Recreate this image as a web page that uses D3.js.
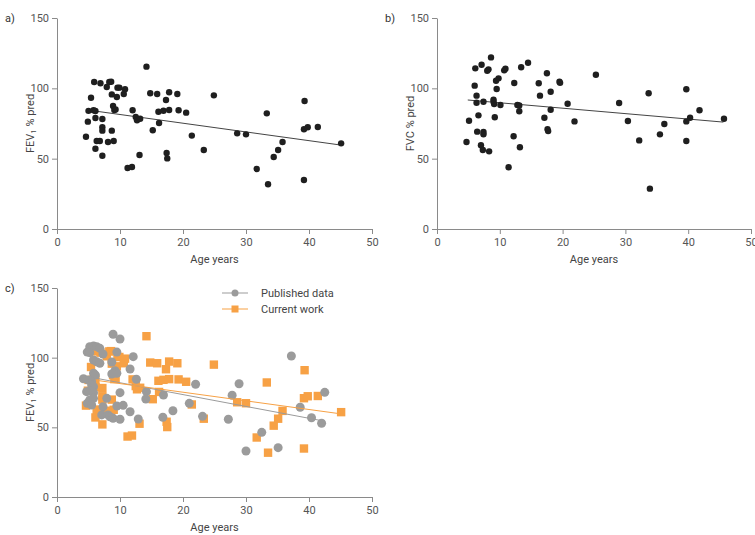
<!DOCTYPE html>
<html>
<head>
<meta charset="utf-8">
<script src="https://cdn.jsdelivr.net/npm/d3@7"></script>
<style>
  body { margin: 0; background: #fff; }
  text { font-family: Roboto, "Open Sans", sans-serif; }
  .axis path, .axis line { stroke: #8a8a8a; }
  .axis text { fill: #555; font-size: 11px; }
</style>
</head>
<body>
<script>
'use strict';

// current work: FEV1 % pred vs age (panel a, and orange squares in c)
const fev1Age = [14.2, 5.9, 6.9, 7.9, 8.3, 8.6, 9.6, 9.9, 10.8, 8.7, 9.5, 10.6, 5.4,
  14.8, 15.9, 17.8, 19.1, 24.9, 17.3, 5.0, 5.8, 6.1, 8.9, 9.1, 9.3,
  12.0, 16.1, 16.9, 17.8, 19.3, 20.5, 4.9, 6.1, 7.2, 7.2, 7.2, 8.7,
  12.5, 12.7, 13.2, 16.2, 15.2, 4.6, 6.3, 6.8, 8.1, 9.0, 21.4,
  6.1, 7.2, 13.1, 17.4, 17.5, 23.3, 11.2, 11.9, 28.6, 30, 39.3, 33.3,
  39.2, 39.8, 41.4, 45.1, 35.8, 35.1, 34.4, 31.7, 33.5, 39.2];
const fev1Pred = [115.4, 104.5, 103.6, 101, 104.5, 104.7, 100.5, 100.5, 99.3, 95.7, 93.8, 96, 93.3,
  96.5, 96, 97.2, 96, 95, 91.7, 84, 84.4, 83.9, 87.4, 84.6, 85,
  84.4, 83.4, 84.1, 84.6, 84.4, 82.7, 76.3, 78.9, 78.2, 72.3, 69.9, 69.9,
  79.6, 77.3, 78.4, 75.4, 70.2, 65.6, 62.6, 62.6, 61.9, 62.6, 66.4,
  57.1, 52.1, 52.6, 54, 50.2, 56.2, 43.4, 44.1, 68, 67.3, 91, 82.2,
  70.9, 72.3, 72.5, 60.9, 61.8, 56.2, 51.2, 42.7, 31.8, 34.8];

// current work: FVC % pred vs age (panel b)
const fvcAge = [8.6, 6.1, 7.1, 8.2, 8.0, 10.9, 10.7, 13.4, 14.5, 17.5, 25.3,
  6.0, 9.4, 9.8, 12.3, 16.2, 19.5, 19.6, 9.5, 6.3, 16.4, 18.1,
  6.3, 7.4, 9.0, 9.0, 9.1, 10.1, 12.8, 13.1, 13.1, 20.8, 18.1,
  6.6, 9.2, 17.1, 5.1, 21.9, 6.4, 7.4, 7.4, 17.6, 17.7, 12.2,
  4.7, 7.0, 7.3, 8.3, 13.2, 11.4,
  29, 33.7, 39.7, 41.8, 30.4, 36.2, 40.3, 39.7, 45.7, 35.5, 32.2, 39.7, 33.9];
const fvcPred = [122, 114.2, 116.8, 113.5, 112.5, 114, 112.8, 115, 118.2, 110.7, 109.7,
  101.9, 105.4, 107.1, 103.8, 103.6, 104.7, 103.9, 99.5, 94.8, 94.8, 97.6,
  89.8, 90.5, 92, 90.5, 88.8, 88.2, 88.2, 87.8, 83.7, 89, 84.8,
  80.8, 79.4, 79.1, 77, 76.5, 69.2, 69, 67.3, 71, 69.6, 65.9,
  61.8, 59.5, 56.2, 55.2, 58.1, 43.9,
  89.6, 96.5, 99.3, 84.4, 76.8, 74.6, 79.1, 76.5, 78.4, 67.3, 63, 62.6, 28.7];

// published data: FEV1 % pred vs age (grey circles in c)
const pubAge = [8.9, 10, 5.2, 5.8, 6.3, 6.8, 4.8, 5.2, 7.3, 9.5, 12.1,
  5.8, 6.3, 6.8, 8.7, 11.6, 9.2, 9.5, 5.8, 6.1, 8.7,
  4.2, 5, 5.5, 12.6, 5.5, 5.8, 22,
  4.7, 5.2, 5.8, 10, 14.2, 16.9, 14.1,
  5.2, 5.8, 7.9, 4.8, 5.5, 7.3, 9.5, 10.5, 21,
  11.6, 7.1, 8.1, 8.4, 8.9, 10, 12.9, 16.8, 18.4, 23.1, 27.2,
  37.2, 28.9, 27.8, 38.6, 42.5, 40.4, 42, 32.5, 30, 35.1];
const pubPred = [116.8, 113.4, 107.9, 108.4, 107.9, 106.7, 104, 103.6, 102.6, 104, 100.7,
  98.3, 97.1, 96, 96.9, 91.9, 90.6, 88.8, 88.8, 87.5, 88.3,
  84.9, 84, 82.8, 84.5, 80.4, 79.2, 80.9,
  75.6, 76.1, 74.9, 74.9, 75.6, 73.2, 70.3,
  69.6, 70.8, 70.8, 67.2, 66, 64.8, 65.3, 65.8, 67.2,
  61.2, 58.9, 58.9, 57.6, 56.5, 55.8, 56, 57.2, 61.9, 57.9, 55.8,
  101.2, 81.3, 73, 64.4, 75.1, 56.9, 52.9, 46.4, 33, 35.4];

// fitted lines: [xStart, xEnd, intercept, slope]
const fitFev1 = [6.3, 45.1, 87.6, -0.62];
const fitFvc = [4.9, 45.6, 93.6, -0.386];
const fitPub = [6.0, 42.0, 90.5, -0.85];

const xTicks = [0, 10, 20, 30, 40, 50];
const yTicks = [0, 50, 100, 150];
const legendLabels = ["Published data", "Current work"];

const svg = d3.select('body').append('svg')
  .attr('width', 755)
  .attr('height', 535);

function zip(xs, ys) {
  return xs.map((x, i) => ({ x: x, y: ys[i] }));
}

// draw one panel's axes and labels, return scales
function makePanel(left, right, top, bottom, tag, yLabel, sub) {
  let xScale = d3.scaleLinear().domain([0, 50]).range([left, right]);
  let yScale = d3.scaleLinear().domain([0, 150]).range([bottom, top]);

  svg.append('g').attr('class', 'axis')
    .attr('transform', `translate(0, ${bottom})`)
    .call(d3.axisBottom(xScale).tickValues(xTicks).tickSize(5).tickSizeOuter(0).tickPadding(4));

  svg.append('g').attr('class', 'axis')
    .attr('transform', `translate(${left}, 0)`)
    .call(d3.axisLeft(yScale).tickValues(yTicks).tickSize(5).tickSizeOuter(0).tickPadding(3));

  svg.append('text')
    .attr('x', left - 52).attr('y', top + 4)
    .style('font-size', '11px').style('fill', '#333')
    .text(tag);

  svg.append('text')
    .attr('x', (left + right) / 2).attr('y', bottom + 34)
    .attr('text-anchor', 'middle')
    .style('font-size', '11px').style('fill', '#444')
    .text('Age years');

  let yl = svg.append('text')
    .attr('transform', `translate(${left - 23}, ${(top + bottom) / 2})rotate(-90)`)
    .attr('text-anchor', 'middle')
    .style('font-size', '11px').style('fill', '#444');
  yl.append('tspan').text(yLabel);
  if (sub) {
    yl.append('tspan').style('font-size', '8px').attr('dy', 2).text(sub);
    yl.append('tspan').attr('dy', -2).text(' % pred');
  } else {
    yl.append('tspan').text(' % pred');
  }

  return { x: xScale, y: yScale };
}

function drawFit(sc, fit, color) {
  let pts = [fit[0], fit[1]].map((x) => [sc.x(x), sc.y(fit[2] + fit[3] * x)]);
  svg.append('path')
    .attr('d', d3.line()(pts))
    .attr('stroke', color)
    .attr('stroke-width', 1)
    .attr('fill', 'none');
}

function drawDots(sc, data) {
  svg.append('g').selectAll('circle')
    .data(data)
    .enter()
    .append('circle')
    .attr('cx', (d) => sc.x(d.x))
    .attr('cy', (d) => sc.y(d.y))
    .attr('r', 3.2)
    .attr('fill', '#1f1f1f');
}

// panel a
let scA = makePanel(57, 372, 18, 229, 'a)', 'FEV', '1');
drawFit(scA, fitFev1, '#444');
drawDots(scA, zip(fev1Age, fev1Pred));

// panel b
let scB = makePanel(437, 751, 18, 229, 'b)', 'FVC', null);
drawFit(scB, fitFvc, '#444');
drawDots(scB, zip(fvcAge, fvcPred));

// panel c
let scC = makePanel(57, 372, 288, 497, 'c)', 'FEV', '1');
const grey = '#9b9b9b';
const orange = '#f7a145';

svg.append('g').selectAll('rect')
  .data(zip(fev1Age, fev1Pred))
  .enter()
  .append('rect')
  .attr('x', (d) => scC.x(d.x) - 4.2)
  .attr('y', (d) => scC.y(d.y) - 4.2)
  .attr('width', 8.4)
  .attr('height', 8.4)
  .attr('fill', orange);

svg.append('g').selectAll('circle')
  .data(zip(pubAge, pubPred))
  .enter()
  .append('circle')
  .attr('cx', (d) => scC.x(d.x))
  .attr('cy', (d) => scC.y(d.y))
  .attr('r', 4.5)
  .attr('fill', grey);

drawFit(scC, fitPub, grey);
drawFit(scC, fitFev1, orange);

// legend
let legend = svg.append('g').attr('transform', 'translate(222, 293)');
legendLabels.forEach((label, i) => {
  let g = legend.append('g').attr('transform', `translate(0, ${i * 16})`);
  let color = i == 0 ? grey : orange;
  g.append('line').attr('x1', 0).attr('x2', 26).attr('y1', 0).attr('y2', 0)
    .attr('stroke', color).attr('stroke-width', 1);
  if (i == 0) {
    g.append('circle').attr('cx', 13).attr('cy', 0).attr('r', 3.5).attr('fill', grey);
  } else {
    g.append('rect').attr('x', 9.5).attr('y', -3.5).attr('width', 7).attr('height', 7).attr('fill', orange);
  }
  g.append('text').attr('x', 39).attr('y', 4)
    .style('font-size', '11px').style('fill', '#444')
    .text(label);
});
</script>
</body>
</html>
